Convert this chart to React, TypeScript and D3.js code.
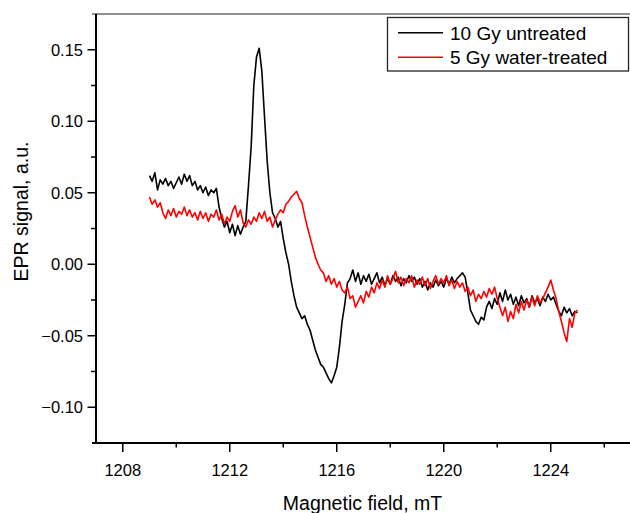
import React from "react";
import * as d3 from "d3";

// Magnetic field grid (mT): first point and step of the recorded sweep
const fieldStart = 1209.0;
const fieldStep = 0.1;

// 10 Gy untreated (black)
const untreated = [
  0.062, 0.058, 0.064, 0.052, 0.059, 0.056, 0.060, 0.055, 0.058, 0.053,
  0.057, 0.061, 0.056, 0.063, 0.058, 0.062, 0.055, 0.058, 0.052, 0.055,
  0.050, 0.054, 0.048, 0.052, 0.050, 0.053, 0.040, 0.032, 0.026, 0.030,
  0.022, 0.028, 0.020, 0.027, 0.021, 0.026, 0.030, 0.055, 0.082, 0.125,
  0.145, 0.151, 0.135, 0.103, 0.072, 0.050, 0.036, 0.032, 0.026, 0.030,
  0.018, 0.008, 0.000, -0.012, -0.022, -0.030, -0.034, -0.038, -0.036, -0.042,
  -0.046, -0.053, -0.060, -0.065, -0.070, -0.072, -0.076, -0.080, -0.083, -0.078,
  -0.072, -0.058, -0.040, -0.028, -0.013, -0.010, -0.004, -0.012, -0.006, -0.014,
  -0.008, -0.012, -0.007, -0.014, -0.010, -0.006, -0.013, -0.009, -0.015, -0.010,
  -0.014, -0.008, -0.012, -0.009, -0.015, -0.010, -0.013, -0.008, -0.012, -0.009,
  -0.014, -0.010, -0.016, -0.012, -0.018, -0.013, -0.016, -0.011, -0.015, -0.012,
  -0.016, -0.010, -0.014, -0.009, -0.013, -0.010, -0.008, -0.006, -0.009, -0.020,
  -0.032, -0.036, -0.040, -0.042, -0.037, -0.039, -0.030, -0.026, -0.031, -0.024,
  -0.028, -0.020, -0.026, -0.018, -0.025, -0.021, -0.028, -0.023, -0.029, -0.022,
  -0.027, -0.024, -0.030, -0.022, -0.027, -0.024, -0.029, -0.023, -0.026, -0.021,
  -0.025, -0.023, -0.028, -0.033, -0.036, -0.030, -0.034, -0.031, -0.036, -0.033,
  -0.034,
];

// 5 Gy water-treated (red)
const waterTreated = [
  0.047, 0.042, 0.045, 0.040, 0.043, 0.036, 0.032, 0.038, 0.034, 0.039,
  0.033, 0.037, 0.035, 0.040, 0.034, 0.038, 0.033, 0.036, 0.031, 0.037,
  0.032, 0.036, 0.030, 0.035, 0.033, 0.038, 0.031, 0.035, 0.028, 0.033,
  0.030, 0.037, 0.041, 0.033, 0.038, 0.029, 0.026, 0.031, 0.028, 0.033,
  0.030, 0.036, 0.032, 0.037, 0.030, 0.033, 0.026, 0.031, 0.035, 0.038,
  0.036, 0.042, 0.044, 0.047, 0.049, 0.051, 0.046, 0.043, 0.034, 0.026,
  0.019, 0.012, 0.005, 0.000, -0.004, -0.006, -0.012, -0.008, -0.014, -0.010,
  -0.016, -0.012, -0.018, -0.020, -0.016, -0.024, -0.022, -0.030, -0.026, -0.022,
  -0.027, -0.019, -0.023, -0.016, -0.020, -0.013, -0.017, -0.011, -0.016, -0.008,
  -0.014, -0.010, -0.005, -0.013, -0.009, -0.015, -0.010, -0.013, -0.008, -0.016,
  -0.011, -0.014, -0.009, -0.015, -0.010, -0.017, -0.012, -0.008, -0.014, -0.010,
  -0.013, -0.008, -0.015, -0.011, -0.017, -0.012, -0.016, -0.013, -0.019, -0.016,
  -0.022, -0.018, -0.026, -0.021, -0.024, -0.019, -0.023, -0.017, -0.021, -0.016,
  -0.024, -0.030, -0.036, -0.030, -0.040, -0.033, -0.038, -0.028, -0.034, -0.026,
  -0.032, -0.025, -0.030, -0.023, -0.029, -0.022, -0.027, -0.024, -0.020, -0.016,
  -0.011, -0.018, -0.024, -0.033, -0.040, -0.048, -0.054, -0.038, -0.044, -0.034,
  -0.032,
];

const xMajorTicks = [1208, 1212, 1216, 1220, 1224];
const xMinorTicks = [1210, 1214, 1218, 1222, 1226];
const yMajorTicks = [-0.1, -0.05, 0, 0.05, 0.1, 0.15];
const yMinorTicks = [-0.075, -0.025, 0.025, 0.075, 0.125];
const xDomain = [1207, 1227];
const yDomain = [-0.125, 0.175];

const seriesNames = ["10 Gy untreated", "5 Gy water-treated"];
const seriesColors = ["#000000", "#ff0000"];

const FONT = "'Liberation Sans', Arial, Helvetica, sans-serif";

export default function App() {
  const W = 630;
  const H = 513;
  const left = 96;
  const right = 631;
  const top = 14;
  const bottom = 443;

  const x = d3.scaleLinear().domain(xDomain).range([left, right]);
  const y = d3.scaleLinear().domain(yDomain).range([bottom, top]);

  const series = [untreated, waterTreated].map((vals) =>
    vals.map((v, i) => ({ b: fieldStart + i * fieldStep, v }))
  );

  const line = d3
    .line<{ b: number; v: number }>()
    .x((d) => x(d.b))
    .y((d) => y(d.v));

  const yFmt = d3.format(".2f");

  return (
    <svg
      width={W}
      height={H}
      style={{ position: "absolute", left: 0, top: 0, background: "#fff" }}
      fontFamily={FONT}
    >
      <rect x={0} y={0} width={W} height={H} fill="#fff" />

      {/* data lines */}
      <defs>
        <clipPath id="plotclip">
          <rect x={left} y={top} width={right - left} height={bottom - top} />
        </clipPath>
      </defs>
      <g clipPath="url(#plotclip)">
        {series.map((s, i) => (
          <path
            key={i}
            d={line(s) || ""}
            fill="none"
            stroke={seriesColors[i]}
            strokeWidth={1.6}
            strokeLinejoin="round"
          />
        ))}
      </g>

      {/* frame */}
      <line x1={left - 4} x2={W} y1={top} y2={top} stroke="#222" strokeWidth={1.2} />
      <line x1={left} x2={left} y1={top} y2={bottom} stroke="#000" strokeWidth={2} />
      <line x1={left - 4} x2={W} y1={bottom} y2={bottom} stroke="#000" strokeWidth={2} />

      {/* x ticks */}
      {xMajorTicks.map((t) => (
        <g key={"xM" + t}>
          <line x1={x(t)} x2={x(t)} y1={bottom} y2={bottom + 9} stroke="#000" strokeWidth={1.5} />
          <text x={x(t)} y={476} textAnchor="middle" fontSize={16.5} fill="#000">
            {t}
          </text>
        </g>
      ))}
      {xMinorTicks.map((t) => (
        <line key={"xm" + t} x1={x(t)} x2={x(t)} y1={bottom} y2={bottom + 4.5} stroke="#000" strokeWidth={1.5} />
      ))}

      {/* y ticks */}
      {yMajorTicks.map((t) => (
        <g key={"yM" + t}>
          <line x1={left - 8.5} x2={left} y1={y(t)} y2={y(t)} stroke="#000" strokeWidth={1.5} />
          <text x={83} y={y(t)} dy="0.36em" textAnchor="end" fontSize={16.5} fill="#000">
            {yFmt(t)}
          </text>
        </g>
      ))}
      {yMinorTicks.map((t) => (
        <line key={"ym" + t} x1={left - 5} x2={left} y1={y(t)} y2={y(t)} stroke="#000" strokeWidth={1.5} />
      ))}

      {/* axis titles */}
      <text x={362.5} y={510} textAnchor="middle" fontSize={19.5} fill="#000">
        Magnetic field, mT
      </text>
      <text
        transform={`translate(28,211.5) rotate(-90)`}
        textAnchor="middle"
        fontSize={19.5}
        fill="#000"
      >
        EPR signal, a.u.
      </text>

      {/* legend */}
      <rect x={387.5} y={17.5} width={241} height={53.5} fill="#fff" stroke="#222" strokeWidth={1.3} />
      {seriesNames.map((n, i) => (
        <g key={n}>
          <line
            x1={398}
            x2={443}
            y1={32.7 + i * 24.6}
            y2={32.7 + i * 24.6}
            stroke={seriesColors[i]}
            strokeWidth={1.6}
          />
          <text x={450} y={39.5 + i * 24.6} fontSize={19} fill="#000">
            {n}
          </text>
        </g>
      ))}
    </svg>
  );
}
